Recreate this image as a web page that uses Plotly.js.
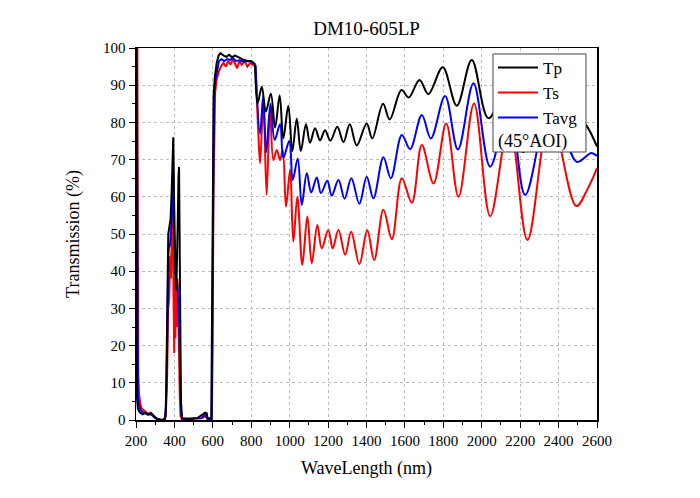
<!DOCTYPE html>
<html>
<head>
<meta charset="utf-8">
<script src="https://cdn.plot.ly/plotly-3.0.1.min.js"></script>
<style>
  html, body { margin: 0; padding: 0; background: #fff; }
  #plot { width: 700px; height: 498px; }
</style>
</head>
<body>
<div id="plot"></div>
<script>
// Blocking band + pass band edge (drawn with straight segments)
const tp_band_wl = [200, 202, 205, 210, 220, 235, 250, 265, 280, 295, 310, 330, 350, 356, 362, 368, 374, 380, 386, 390, 394, 398, 402, 406, 410, 414, 418, 421, 424, 427, 430, 434, 440, 480, 520, 545, 560, 568, 573, 592, 596, 600, 604, 610, 620, 630, 640, 655, 670, 685, 700, 715, 730, 745, 760, 780, 800, 812, 820]
const tp_band = [100, 15, 6, 3, 2, 1.5, 2, 1.5, 1.8, 1, 0.3, 0, 0, 3, 25, 50, 52, 54, 62, 72, 76, 60, 45, 38, 35, 42, 55, 65, 68, 50, 22, 5, 0.5, 0.3, 0.5, 1.5, 2, 1.8, 0.5, 0.5, 30, 70, 87, 92, 96, 98, 98.6, 98, 97.6, 98.2, 97.5, 98, 97.6, 97.2, 96.8, 96.6, 96.5, 96, 95.5]

const ts_band_wl = [207, 209, 212, 216, 222, 230, 245, 260, 275, 290, 310, 340, 355, 362, 368, 373, 378, 382, 386, 391, 395, 399, 402, 405, 408, 412, 416, 420, 424, 428, 432, 438, 480, 540, 560, 575, 595, 599, 603, 607, 612, 620, 630, 642, 655, 668, 680, 692, 705, 718, 726, 738, 750, 765, 780, 795, 810, 822]
const ts_band = [100, 17, 12, 7, 4.5, 3, 2.5, 1.5, 2, 1, 0.3, 0, 1, 12, 30, 33, 44, 38, 48, 63, 35, 18, 38, 22, 40, 25, 38, 30, 18, 6, 1, 0.3, 0.3, 0.5, 1, 0.3, 0.3, 20, 60, 80, 88, 91.5, 93.5, 95, 96, 95, 96.5, 95.5, 97, 95.5, 94.5, 96.5, 95.5, 96.5, 95, 96, 95.5, 95]

const tavg_band_wl = [204, 206, 210, 215, 225, 240, 260, 280, 300, 330, 352, 358, 364, 370, 377, 384, 390, 394, 398, 404, 410, 415, 420, 425, 430, 435, 440, 480, 540, 560, 572, 594, 598, 602, 606, 612, 622, 632, 645, 660, 675, 690, 705, 720, 740, 760, 780, 800, 822]
const tavg_band = [100, 14, 7, 4, 2.5, 2, 1.5, 1.5, 0.5, 0, 0.2, 8, 35, 46, 47, 52, 60, 68, 50, 40, 35, 37, 30, 26, 12, 2, 0.3, 0.3, 0.5, 1.5, 0.3, 0.3, 25, 65, 85, 91, 94, 96.5, 97, 96.5, 97, 96.8, 97.3, 96.5, 96.7, 96.3, 96.5, 96.3, 95.5]

// Ripple region (peaks and dips, drawn smooth)
const tp_rip_wl = [820, 833, 855, 876, 902, 924, 948, 967, 993, 1014, 1037, 1058, 1085, 1106, 1132, 1158, 1184, 1212, 1248, 1280, 1313, 1349, 1401, 1430, 1486, 1521, 1582, 1620, 1676, 1722, 1797, 1870, 1948, 2035, 2140, 2215, 2380, 2494, 2547, 2600]
const tp_rip = [95.5, 85.1, 89.6, 82.9, 87.7, 78.6, 87.2, 75.7, 84.5, 72.3, 81, 72.3, 79.5, 74.5, 78.4, 75.2, 77.9, 75.1, 78.8, 74.7, 79.5, 73.8, 79.7, 75.7, 85, 80.8, 88.7, 86.7, 91.4, 87.6, 94.8, 84.5, 96.8, 81.1, 90, 72, 91, 82, 79, 73.5]

const ts_rip_wl = [822, 836, 846, 863, 880, 898, 915, 933, 950, 964, 981, 1002, 1019, 1040, 1066, 1092, 1115, 1144, 1167, 1201, 1224, 1254, 1289, 1320, 1363, 1404, 1440, 1488, 1532, 1584, 1636, 1688, 1749, 1815, 1879, 1960, 2044, 2143, 2238, 2357, 2492, 2550, 2600]
const ts_rip = [95, 78, 69, 86, 60.5, 83.8, 69.9, 72.6, 69.9, 72.6, 57.3, 67.2, 47.9, 60, 41.7, 54.7, 42.1, 52.4, 46.1, 51.1, 46.1, 51.1, 44.4, 50.6, 41.9, 51, 43, 56.5, 48.6, 65, 58.4, 73.9, 63.6, 79.7, 60, 85.1, 54.8, 80, 48.4, 82, 57.5, 62, 67.7]

const tavg_rip_wl = [822, 846, 862, 878, 900, 922, 950, 967, 998, 1016, 1042, 1063, 1089, 1112, 1141, 1163, 1196, 1219, 1254, 1286, 1321, 1363, 1401, 1436, 1488, 1527, 1584, 1627, 1688, 1735, 1809, 1876, 1957, 2044, 2143, 2226, 2365, 2494, 2570, 2600]
const tavg_rip = [95.5, 77, 87, 72, 85, 75.3, 79.5, 70.5, 75, 64.5, 70.3, 57.8, 66.3, 61.2, 65.2, 61, 64.3, 60.3, 64.5, 59.5, 65, 58.1, 65.4, 59.6, 70.6, 65, 76.6, 72.8, 82, 75.7, 87.1, 72.7, 90.5, 68.1, 85, 60.5, 86.5, 69.4, 71.8, 71]

const serif = 'Liberation Serif, Times New Roman, serif'

function series(name, color, rank, band_wl, band, rip_wl, rip) {
    return [
        {type: 'scatter', mode: 'lines', name: name, x: band_wl, y: band, legendgroup: name, legendrank: rank,
         line: {color: color, width: 2}, hoverinfo: 'none'},
        {type: 'scatter', mode: 'lines', name: name, x: rip_wl, y: rip, legendgroup: name, showlegend: false,
         line: {color: color, width: 2, shape: 'spline', smoothing: 1}, hoverinfo: 'none'},
    ]
}

// draw order: Ts under Tavg under Tp
let data = []
data = data.concat(series('Ts', '#ff0000', 2, ts_band_wl, ts_band, ts_rip_wl, ts_rip))
data = data.concat(series('Tavg', '#0000ff', 3, tavg_band_wl, tavg_band, tavg_rip_wl, tavg_rip))
data = data.concat(series('Tp', '#000000', 1, tp_band_wl, tp_band, tp_rip_wl, tp_rip))

const axis_common = {
    showline: true, linecolor: '#000', linewidth: 1.5, mirror: true,
    ticks: 'outside', ticklen: 6, tickwidth: 1, tickcolor: '#000',
    showgrid: true, gridcolor: '#bdbdbd', griddash: 'dot', gridwidth: 1,
    zeroline: false, tickfont: {family: serif, size: 15, color: '#000'},
}

const layout = {
    width: 700, height: 498,
    margin: {l: 136, r: 103, t: 48, b: 78},
    paper_bgcolor: '#fff', plot_bgcolor: '#fff',
    title: {text: 'DM10-605LP', font: {family: serif, size: 19, color: '#000'},
            x: 0.5236, xanchor: 'center', y: 0.944, yanchor: 'middle'},
    xaxis: Object.assign({}, axis_common, {
        range: [200, 2600], tick0: 200, dtick: 200,
        minor: {dtick: 100, ticks: 'outside', ticklen: 3, tickcolor: '#000', showgrid: false},
        title: {text: 'WaveLength (nm)', font: {family: serif, size: 18, color: '#000'}, standoff: 14},
    }),
    yaxis: Object.assign({}, axis_common, {
        range: [0, 100], tick0: 0, dtick: 10,
        minor: {dtick: 5, ticks: 'outside', ticklen: 3, tickcolor: '#000', showgrid: false},
        title: {text: 'Transmission (%)', font: {family: serif, size: 18, color: '#000'}, standoff: 18},
    }),
    showlegend: true,
    legend: {x: 0.7744, y: 0.995, xanchor: 'left', yanchor: 'top', bgcolor: 'rgba(0,0,0,0)',
             borderwidth: 0, font: {family: serif, size: 17, color: '#000'}, tracegroupgap: 0,
             itemwidth: 40},
    shapes: [
        {type: 'rect', xref: 'paper', yref: 'paper', x0: 0.7744, x1: 0.9761, y0: 0.7204, y1: 0.9839,
         fillcolor: '#fff', line: {color: '#444', width: 1}, layer: 'above'},
    ],
    annotations: [
        {text: '(45°AOI)', xref: 'paper', yref: 'paper', x: 0.781, y: 0.7500, xanchor: 'left', yanchor: 'middle',
         showarrow: false, font: {family: serif, size: 18, color: '#000'}},
    ],
}

Plotly.newPlot(document.getElementById('plot'), data, layout, {displayModeBar: false, staticPlot: true})
</script>
</body>
</html>
